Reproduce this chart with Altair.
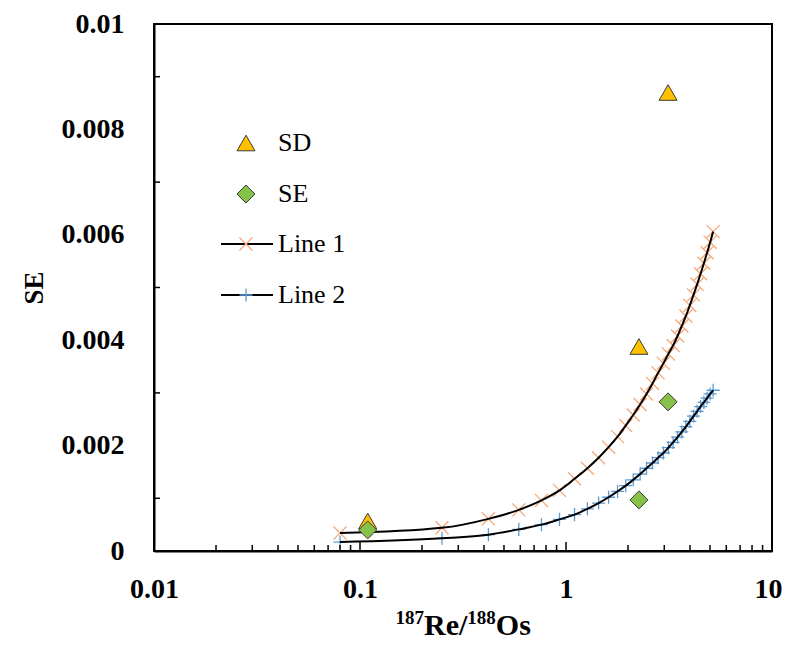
import altair as alt
import pandas as pd

# ---------------- data ----------------
x_vals = [0.08, 0.25, 0.42, 0.59, 0.76, 0.93, 1.10, 1.27, 1.44, 1.61, 1.78,
          1.95, 2.12, 2.29, 2.46, 2.63, 2.80, 2.97, 3.14, 3.31, 3.48, 3.65,
          3.82, 3.99, 4.16, 4.33, 4.50, 4.67, 4.84, 5.01, 5.18]
line1_y = [0.00034, 0.00044, 0.00061, 0.00078, 0.00096, 0.00115, 0.00137,
           0.00157, 0.00177, 0.00197, 0.00217, 0.00238, 0.00258, 0.00278,
           0.00298, 0.00318, 0.00338, 0.00356, 0.00374, 0.00390, 0.00408,
           0.00427, 0.00446, 0.00466, 0.00486, 0.00506, 0.00526, 0.00546,
           0.00566, 0.00586, 0.00606]
line2_y = [0.00017, 0.00024, 0.00031, 0.00041, 0.00050, 0.00060, 0.00069,
           0.00080, 0.00091, 0.00102, 0.00113, 0.00124, 0.00135, 0.00146,
           0.00157, 0.00167, 0.00177, 0.00186, 0.00196, 0.00206, 0.00216,
           0.00226, 0.00236, 0.00246, 0.00256, 0.00265, 0.00274, 0.00282,
           0.00290, 0.00298, 0.00305]
sd_x = [0.109, 2.26, 3.13]
sd_y = [0.00057, 0.00388, 0.00870]
se_x = [0.109, 2.26, 3.13]
se_y = [0.00040, 0.00097, 0.00283]

x_major = [0.01, 0.1, 1, 10]
x_inner_major = [0.1, 1]
x_minor = [0.02, 0.03, 0.04, 0.05, 0.06, 0.07, 0.08, 0.09,
           0.2, 0.3, 0.4, 0.5, 0.6, 0.7, 0.8, 0.9,
           2, 3, 4, 5, 6, 7, 8, 9]
y_major = [0, 0.002, 0.004, 0.006, 0.008, 0.01]
y_minor = [0.001, 0.003, 0.005, 0.007, 0.009]

legend_labels = ["SD", "SE", "Line 1", "Line 2"]

# ---------------- styling ----------------
W, H = 618, 527
FONT = "Liberation Serif"
ORANGE = "#F5A878"
BLUE = "#5B9BD5"
GOLD = "#FFC000"
GREEN = "#86C24A"
EDGE = "#3A3A3A"
X_SHAPE = "M-1,-1L1,1M-1,1L1,-1"
PLUS_SHAPE = "M-1,0L1,0M0,-1L0,1"

xscale = alt.Scale(type="log", domain=[0.01, 10], nice=False)
yscale = alt.Scale(domain=[0, 0.01], nice=False)

x_axis = alt.Axis(
    values=x_major, format="~g", ticks=False, grid=False,
    labelPadding=24, title=None, labelFlush=False,
    labelAlign={"condition": {"test": "datum.value >= 10", "value": "right"},
                "value": "center"},
    labelOffset={"condition": {"test": "datum.value >= 10", "value": 10},
                 "value": 0},
)
y_axis = alt.Axis(values=y_major, format="~g", ticks=False, grid=False,
                  labelPadding=30, title="SE", titleFont=FONT,
                  titleFontSize=27, titleFontWeight="bold", titleColor="black",
                  titleX=-120, titleAlign="center", titleBaseline="middle",
                  titleAngle=270)


def X(field):
    return alt.X(field, scale=xscale, axis=x_axis)


def Y(field):
    return alt.Y(field, scale=yscale, axis=y_axis)


lines_df = pd.DataFrame({"x": x_vals, "l1": line1_y, "l2": line2_y})
sd_df = pd.DataFrame({"x": sd_x, "y": sd_y})
se_df = pd.DataFrame({"x": se_x, "y": se_y})

base = alt.Chart(lines_df)

m1 = base.mark_point(shape=X_SHAPE, size=170, filled=False, color=ORANGE,
                     strokeWidth=1.3, opacity=1).encode(x=X("x:Q"), y=Y("l1:Q"))
m2 = base.mark_point(shape=PLUS_SHAPE, size=170, filled=False, color=BLUE,
                     strokeWidth=1.3, opacity=1).encode(x=X("x:Q"), y=Y("l2:Q"))
l1 = base.mark_line(color="black", strokeWidth=2, interpolate="monotone").encode(
    x=X("x:Q"), y=Y("l1:Q"))
l2 = base.mark_line(color="black", strokeWidth=2, interpolate="monotone").encode(
    x=X("x:Q"), y=Y("l2:Q"))

sd = alt.Chart(sd_df).mark_point(shape="triangle-up", size=324, filled=True,
                                 fill=GOLD, stroke=EDGE, strokeWidth=1,
                                 opacity=1).encode(x=X("x:Q"), y=Y("y:Q"))
se = alt.Chart(se_df).mark_point(shape="diamond", size=324, filled=True,
                                 fill=GREEN, stroke=EDGE, strokeWidth=1,
                                 opacity=1).encode(x=X("x:Q"), y=Y("y:Q"))

# inward tick marks
xminor_ticks = alt.Chart(pd.DataFrame({"t": x_minor})).mark_rule(
    color="black", strokeWidth=1.5).encode(
    x=X("t:Q"), y=alt.value(H), y2=alt.value(H - 6))
xmajor_ticks = alt.Chart(pd.DataFrame({"t": x_inner_major})).mark_rule(
    color="black", strokeWidth=1.5).encode(
    x=X("t:Q"), y=alt.value(H), y2=alt.value(H - 9))
yminor_ticks = alt.Chart(pd.DataFrame({"t": y_minor})).mark_rule(
    color="black", strokeWidth=1.5).encode(
    y=Y("t:Q"), x=alt.value(0), x2=alt.value(6))


# legend (inside the plot, top-left)
def leg_text(label, ypix):
    return alt.Chart(pd.DataFrame({"label": [label]})).mark_text(
        align="left", baseline="middle", font=FONT, fontSize=26,
        color="black").encode(text="label:N", x=alt.value(124),
                              y=alt.value(ypix))


def leg_point(label, ypix, **kw):
    return alt.Chart(pd.DataFrame({"label": [label]})).mark_point(
        opacity=1, **kw).encode(x=alt.value(92), y=alt.value(ypix))


def leg_line(label, ypix):
    return alt.Chart(pd.DataFrame({"label": [label]})).mark_rule(
        color="black", strokeWidth=2).encode(
        x=alt.value(67), x2=alt.value(119), y=alt.value(ypix))


legend = [
    leg_point(legend_labels[0], 119, shape="triangle-up", size=324,
              filled=True, fill=GOLD, stroke=EDGE, strokeWidth=1),
    leg_text(legend_labels[0], 119),
    leg_point(legend_labels[1], 170, shape="diamond", size=324,
              filled=True, fill=GREEN, stroke=EDGE, strokeWidth=1),
    leg_text(legend_labels[1], 170),
    leg_line(legend_labels[2], 220),
    leg_point(legend_labels[2], 220, shape=X_SHAPE, size=170, filled=False,
              color=ORANGE, strokeWidth=1.3),
    leg_text(legend_labels[2], 220),
    leg_line(legend_labels[3], 271),
    leg_point(legend_labels[3], 271, shape=PLUS_SHAPE, size=170,
              filled=False, color=BLUE, strokeWidth=1.3),
    leg_text(legend_labels[3], 271),
]

# x axis title with superscripts
title_parts = [("187", 241.5, 600, 19), ("Re/", 270, 611, 30),
               ("188", 313.3, 600, 19), ("Os", 341.8, 611, 30)]
title_layers = [
    alt.Chart(pd.DataFrame({"s": [s]})).mark_text(
        align="left", baseline="alphabetic", font=FONT, fontSize=fs,
        fontWeight="bold", color="black").encode(
        text="s:N", x=alt.value(px), y=alt.value(py))
    for s, px, py, fs in title_parts
]

chart = alt.layer(
    m1, m2, l1, l2, sd, se, xminor_ticks, xmajor_ticks, yminor_ticks,
    *legend, *title_layers
).properties(
    width=W, height=H,
    autosize=alt.AutoSizeParams(type="none"),
    padding={"left": 146, "top": 16, "right": 11, "bottom": 90},
).configure_view(
    stroke="black", strokeWidth=2
).configure_axis(
    labelFont=FONT, labelFontSize=28, labelFontWeight="bold",
    labelColor="black", domainColor="black", domainWidth=2,
)

chart.save("out.html", embed_options={"renderer": "svg", "actions": False})
